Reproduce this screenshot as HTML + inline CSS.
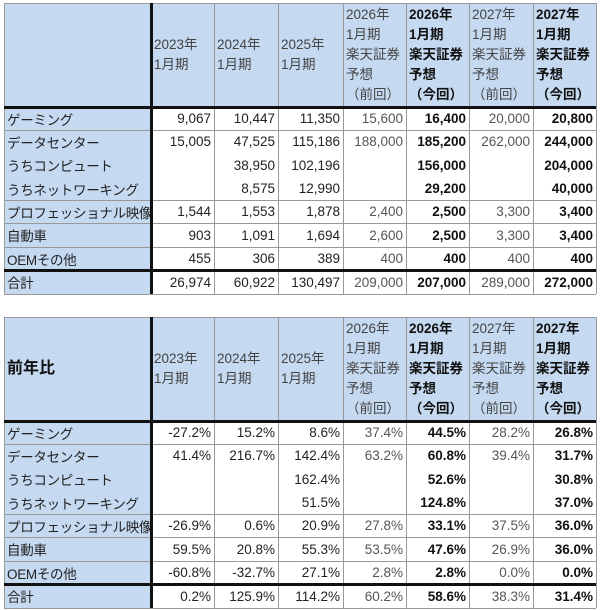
<!DOCTYPE html>
<html><head><meta charset="utf-8">
<style>
body{margin:0;width:600px;height:610px;background:#fff;position:relative;overflow:hidden;font-family:"Liberation Sans","Noto Sans CJK JP",sans-serif;font-size:13.5px;color:#222}
.c{position:absolute;box-sizing:border-box;display:flex;align-items:center;white-space:nowrap;overflow:hidden}
.h{background:#c5d9f1;color:#444;line-height:20px;flex-direction:column;justify-content:center;align-items:flex-start;padding-left:3px}
.l{background:#c5d9f1;padding-left:3px;letter-spacing:-0.3px}
.n{justify-content:flex-end;padding-right:3px}
.b{font-weight:bold;color:#111}
.g{color:#555}
.ln{position:absolute;background:#999}
.tk{position:absolute;background:#111}
</style></head><body>
<script>
const colX=[4,151,214,278,343,406,469,533,596];
const labels=["ゲーミング","データセンター","うちコンピュート","うちネットワーキング","プロフェッショナル映像","自動車","OEMその他","合計"];
const heads=[["2023年","1月期"],["2024年","1月期"],["2025年","1月期"],["2026年","1月期","楽天証券","予想","（前回）"],["2026年","1月期","楽天証券","予想","（今回）"],["2027年","1月期","楽天証券","予想","（前回）"],["2027年","1月期","楽天証券","予想","（今回）"]];
const boldCols=[false,false,false,false,true,false,true];
const sales=[
["9,067","10,447","11,350","15,600","16,400","20,000","20,800"],
["15,005","47,525","115,186","188,000","185,200","262,000","244,000"],
["","38,950","102,196","","156,000","","204,000"],
["","8,575","12,990","","29,200","","40,000"],
["1,544","1,553","1,878","2,400","2,500","3,300","3,400"],
["903","1,091","1,694","2,600","2,500","3,300","3,400"],
["455","306","389","400","400","400","400"],
["26,974","60,922","130,497","209,000","207,000","289,000","272,000"]];
const growth=[
["-27.2%","15.2%","8.6%","37.4%","44.5%","28.2%","26.8%"],
["41.4%","216.7%","142.4%","63.2%","60.8%","39.4%","31.7%"],
["","","162.4%","","52.6%","","30.8%"],
["","","51.5%","","124.8%","","37.0%"],
["-26.9%","0.6%","20.9%","27.8%","33.1%","37.5%","36.0%"],
["59.5%","20.8%","55.3%","53.5%","47.6%","26.9%","36.0%"],
["-60.8%","-32.7%","27.1%","2.8%","2.8%","0.0%","0.0%"],
["0.2%","125.9%","114.2%","60.2%","58.6%","38.3%","31.4%"]];
function cell(x,y,w,h,cls,html,name){const d=document.createElement('div');d.className='c '+cls;d.style.cssText=`left:${x}px;top:${y}px;width:${w}px;height:${h}px`;d.innerHTML=html;


document.body.appendChild(d);}
function line(cls,x,y,w,h){const d=document.createElement('div');d.className=cls;d.style.cssText=`left:${x}px;top:${y}px;width:${w}px;height:${h}px`;


document.body.appendChild(d);}
function table(top,rowY,data,title,name){
  const hb=rowY[0];
  cell(colX[0],top,colX[1]-colX[0],hb-top,'h b',title?'<span style="font-size:16px">'+title+'</span>':'',name+'-corner');
  heads.forEach((hd,i)=>cell(colX[i+1],top,colX[i+2]-colX[i+1],hb-top,'h'+(boldCols[i]?' b':''),hd.map(s=>'<div>'+s+'</div>').join(''),name+'-header-'+i));
  labels.forEach((lb,r)=>{
    const y=rowY[r],h=rowY[r+1]-y;
    cell(colX[0],y,colX[1]-colX[0],h,'l',lb,name+'-row-label');
    data[r].forEach((v,i)=>cell(colX[i+1],y,colX[i+2]-colX[i+1],h,'n'+(boldCols[i]?' b':(i>=3?' g':'')),v,name+'-value'));
  });
  const bot=rowY[rowY.length-1];
  [1,4,5,6,8].forEach(k=>line('ln',colX[0],rowY[k],colX[8]-colX[0],1));
  line('ln',colX[0],top,colX[8]-colX[0],1);
  colX.forEach((x,i)=>{ if(i!==1) line('ln',x,top,1,bot-top);});
  line('tk',colX[1]-1,top,3,bot-top);
  line('tk',colX[0],rowY[0]-1,colX[8]-colX[0],3);
  line('tk',colX[0],rowY[7]-1,colX[8]-colX[0],3);
}
table(3,[107,130,153,177,200,223,247,270,294],sales,'','sales-table');
table(317,[421,444,467,491,514,537,561,584,608],growth,'前年比','growth-table');
</script>
</body></html>
